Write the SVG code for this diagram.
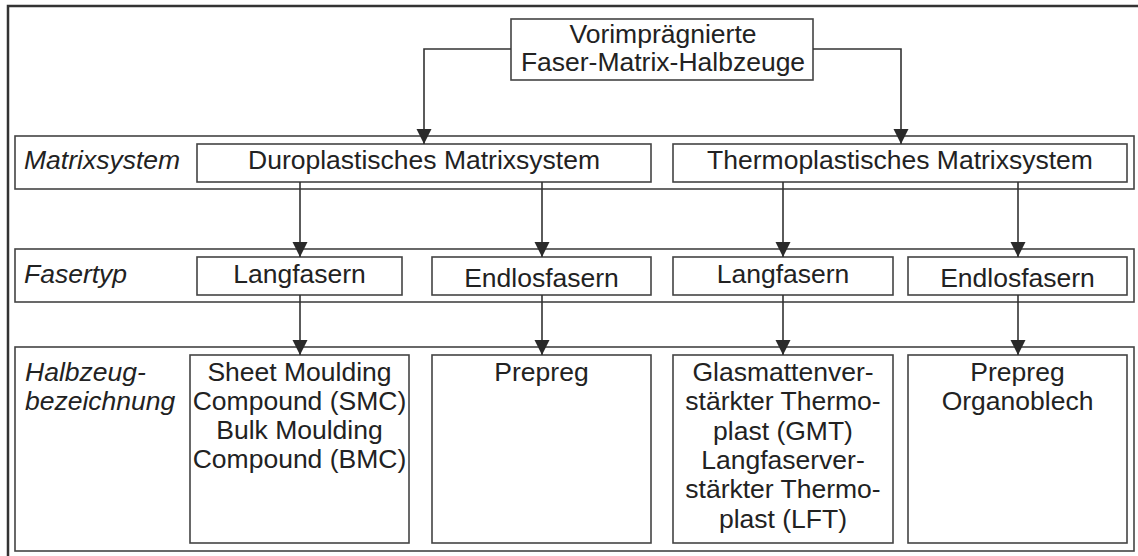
<svg xmlns="http://www.w3.org/2000/svg" width="1138" height="556" viewBox="0 0 1138 556">
<defs>
<style>
.frame{fill:#fff;stroke:#333;stroke-width:2.5}
.band{fill:none;stroke:#444;stroke-width:1.6}
.box{fill:#fff;stroke:#444;stroke-width:1.6}
.t{font-family:"Liberation Sans",Arial,sans-serif;font-size:26.5px;fill:#222;text-anchor:middle}
.lab{font-family:"Liberation Sans",Arial,sans-serif;font-size:26.5px;fill:#222;font-style:italic}
.c{fill:none;stroke:#333;stroke-width:1.6}
</style>
<marker id="ah" markerUnits="userSpaceOnUse" markerWidth="16" markerHeight="16" refX="15" refY="7.5" orient="auto" viewBox="0 0 16 16">
<path d="M0,0 L15,7.5 L0,15 z" fill="#2a2a2a"/>
</marker>
</defs>
<rect x="8" y="6" width="1145" height="565" class="frame"/>
<g id="bands">
<rect x="15" y="136" width="1119" height="53" class="band"/>
<rect x="15" y="249" width="1119" height="53" class="band"/>
<rect x="15" y="347" width="1119" height="204" class="band"/>
</g>
<g id="row-labels">
<text class="lab" x="24" y="169">Matrixsystem</text>
<text class="lab" x="24" y="283">Fasertyp</text>
<text class="lab" x="25" y="381">Halbzeug-</text>
<text class="lab" x="25" y="409.5">bezeichnung</text>
</g>
<g id="root">
<rect x="511" y="19" width="302" height="61" class="box"/>
<text class="t" x="663" y="43">Vorimprägnierte</text>
<text class="t" x="663" y="71">Faser-Matrix-Halbzeuge</text>
</g>
<g id="duro">
<rect x="197" y="144" width="454" height="38" class="box"/>
<text class="t" x="424" y="169">Duroplastisches Matrixsystem</text>
</g>
<g id="thermo">
<rect x="673" y="144" width="454" height="38" class="box"/>
<text class="t" x="900" y="169">Thermoplastisches Matrixsystem</text>
</g>
<g id="duro-lang">
<rect x="197" y="257" width="205" height="38" class="box"/>
<text class="t" x="299.5" y="283">Langfasern</text>
</g>
<g id="duro-endlos">
<rect x="432" y="257" width="219" height="38" class="box"/>
<text class="t" x="541.5" y="286.5">Endlosfasern</text>
</g>
<g id="thermo-lang">
<rect x="673" y="257" width="220" height="38" class="box"/>
<text class="t" x="783" y="283">Langfasern</text>
</g>
<g id="thermo-endlos">
<rect x="908" y="257" width="219" height="38" class="box"/>
<text class="t" x="1017.5" y="286.5">Endlosfasern</text>
</g>
<g id="smc">
<rect x="190" y="355" width="219" height="188" class="box"/>
<text class="t" x="299.5" y="381">Sheet Moulding</text>
<text class="t" x="299.5" y="409.5">Compound (SMC)</text>
<text class="t" x="299.5" y="438.5">Bulk Moulding</text>
<text class="t" x="299.5" y="467.5">Compound (BMC)</text>
</g>
<g id="prepreg">
<rect x="432" y="355" width="219" height="188" class="box"/>
<text class="t" x="541.5" y="381">Prepreg</text>
</g>
<g id="gmt">
<rect x="673" y="355" width="220" height="188" class="box"/>
<text class="t" x="783" y="381">Glasmattenver-</text>
<text class="t" x="783" y="410">stärkter Thermo-</text>
<text class="t" x="783" y="439.5">plast (GMT)</text>
<text class="t" x="783" y="469">Langfaserver-</text>
<text class="t" x="783" y="498">stärkter Thermo-</text>
<text class="t" x="783" y="527.5">plast (LFT)</text>
</g>
<g id="organo">
<rect x="908" y="355" width="219" height="188" class="box"/>
<text class="t" x="1017.5" y="381">Prepreg</text>
<text class="t" x="1017.5" y="410">Organoblech</text>
</g>
<g id="connectors">
<path class="c" d="M511,49 H424 V144" marker-end="url(#ah)"/>
<path class="c" d="M813,49 H901 V144" marker-end="url(#ah)"/>
<path class="c" d="M300,182 V257" marker-end="url(#ah)"/>
<path class="c" d="M542,182 V257" marker-end="url(#ah)"/>
<path class="c" d="M783,182 V257" marker-end="url(#ah)"/>
<path class="c" d="M1018,182 V257" marker-end="url(#ah)"/>
<path class="c" d="M300,295 V355" marker-end="url(#ah)"/>
<path class="c" d="M542,295 V355" marker-end="url(#ah)"/>
<path class="c" d="M783,295 V355" marker-end="url(#ah)"/>
<path class="c" d="M1018,295 V355" marker-end="url(#ah)"/>
</g>
</svg>
